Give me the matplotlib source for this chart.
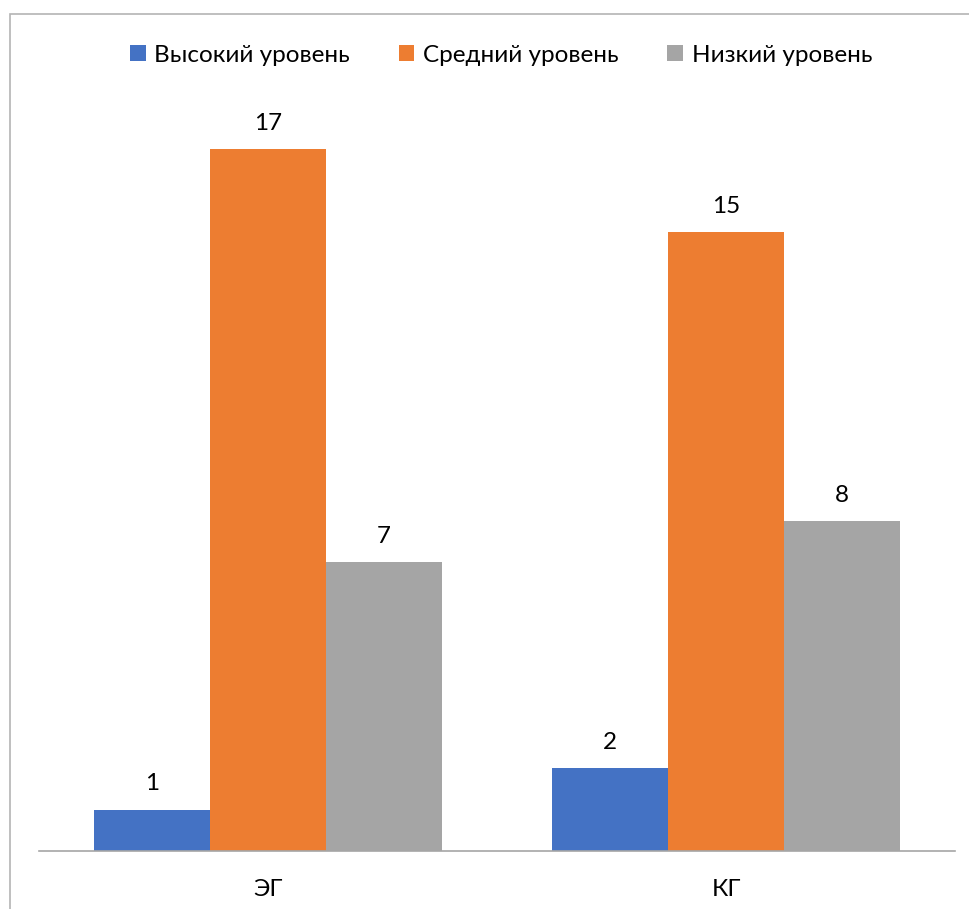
import matplotlib.pyplot as plt
import matplotlib.patches as mpatches
import numpy as np

groups = ["ЭГ", "КГ"]
series = ["Высокий уровень", "Средний уровень", "Низкий уровень"]
high = [1, 2]
mid = [17, 15]
low = [7, 8]
colors = ["#4472C4", "#ED7D31", "#A5A5A5"]

plt.rcParams['font.family'] = ['Lato', 'DejaVu Sans']

W, H = 970, 909
fig = plt.figure(figsize=(W / 100, H / 100), dpi=100)

# outer frame (cut off at right and bottom)
fig.patches.append(mpatches.Rectangle((10 / W, -0.1), 1.2, 1 - 14 / H + 0.1,
                                      transform=fig.transFigure, fill=False,
                                      edgecolor="#b4b4b4", lw=1.2))

ax = fig.add_axes([39 / W, 1 - 851 / H, (955 - 39) / W, (851 - 108) / H])
x = np.arange(len(groups))
bw = 116 / 458
for i, (vals, name) in enumerate(zip([high, mid, low], series)):
    bars = ax.bar(x + (i - 1) * bw, vals, width=bw, color=colors[i], label=name)
    for b, v in zip(bars, vals):
        ax.annotate(str(v), (b.get_x() + b.get_width() / 2, v),
                    xytext=(0, 11), textcoords="offset points",
                    ha="center", va="bottom", fontsize=17.5, color="#000000")

ax.set_xlim(-0.5, 1.5)
ax.set_ylim(0, 18)
ax.set_yticks([])
ax.set_xticks(x)
ax.set_xticklabels(groups, fontsize=17.5)
ax.tick_params(axis="x", length=0, pad=20)
for s in ["top", "right", "left"]:
    ax.spines[s].set_visible(False)
ax.spines["bottom"].set_color("#a6a6a6")
ax.spines["bottom"].set_linewidth(1.2)

fig.legend(loc="center", bbox_to_anchor=(501 / W, 1 - 55 / H), ncol=3,
           frameon=False, fontsize=17.5, handlelength=0.65, handleheight=0.65,
           handletextpad=0.35, columnspacing=2.0)

fig.savefig("out.png", dpi=100)
